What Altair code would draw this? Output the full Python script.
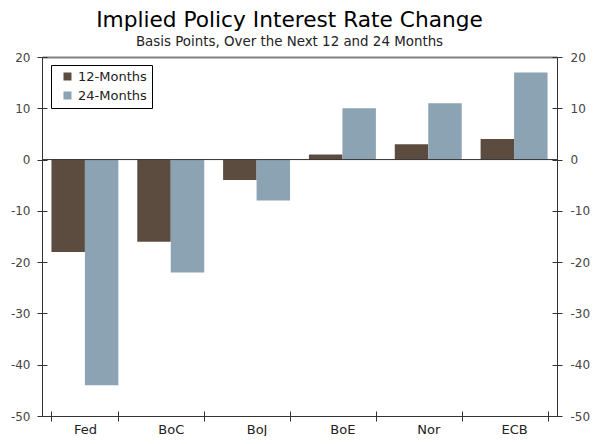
import altair as alt
import pandas as pd

categories = ["Fed", "BoC", "BoJ", "BoE", "Nor", "ECB"]
m12 = [-18, -16, -4, 1, 3, 4]
m24 = [-44, -22, -8, 10, 11, 17]
series = ["12-Months", "24-Months"]
colors = ["#5c4c3f", "#8ba3b3"]
y_ticks = [-50, -40, -30, -20, -10, 0, 10, 20]
y_domain = [-50, 20]
zero_line = [0]

rows = []
for c, a, b in zip(categories, m12, m24):
    rows.append({"bank": c, "series": series[0], "value": a})
    rows.append({"bank": c, "series": series[1], "value": b})
df = pd.DataFrame(rows)

FONT = "DejaVu Sans"
DARK = "#333333"

xscale = alt.Scale(domain=categories, paddingInner=0.22, paddingOuter=0.11)
yscale = alt.Scale(domain=y_domain, nice=False, zero=False)


def xax(**kw):
    base = dict(title=None, grid=False, labelAngle=0, tickBand="extent",
                domainColor=DARK, tickColor=DARK, labelColor="#222222",
                labelFont=FONT, labelFontSize=13)
    base.update(kw)
    return alt.Axis(**base)


def yax(**kw):
    base = dict(title=None, grid=False, values=y_ticks,
                domainColor=DARK, tickColor=DARK, labelColor="#444444",
                labelFont=FONT, labelFontSize=12, labelExpr="'' + datum.value")
    base.update(kw)
    return alt.Axis(**base)


bars = alt.Chart(df).mark_bar().encode(
    x=alt.X("bank:N", scale=xscale, sort=categories,
            axis=xax(orient="bottom", tickSize=5, labelPadding=2)),
    xOffset=alt.XOffset("series:N", sort=series),
    y=alt.Y("value:Q", scale=yscale, stack=None,
            axis=yax(orient="left", tickSize=5, labelPadding=7)),
    color=alt.Color("series:N", sort=series,
                    scale=alt.Scale(domain=series, range=colors),
                    legend=alt.Legend(title=None, orient="none", legendX=9, legendY=8,
                                      direction="vertical", symbolType="square",
                                      symbolSize=64, symbolStrokeWidth=0,
                                      labelFont=FONT, labelFontSize=13, labelColor="#222222",
                                      strokeColor="#000000", fillColor="#ffffff",
                                      padding=5, rowPadding=5, symbolOffset=5, labelOffset=4,
                                      labelExpr="datum.label + '\u00a0\u00a0'")),
)

zero = alt.Chart(pd.DataFrame({"v": zero_line})).mark_rule(color=DARK, strokeWidth=1).encode(
    y=alt.Y("v:Q", scale=yscale, axis=None)
)

# helper layers carrying extra axes (right axis, inner tick halves, top frame line)
h1 = alt.Chart(df).mark_point(opacity=0).encode(
    x=alt.X("bank:N", scale=xscale, sort=categories,
            axis=xax(orient="bottom", offset=-5, tickSize=5, domain=False, labels=False)),
    y=alt.Y("value:Q", scale=yscale,
            axis=yax(orient="right", tickSize=5, labelPadding=8)),
)
h2 = alt.Chart(df).mark_point(opacity=0).encode(
    x=alt.X("bank:N", scale=xscale, sort=categories,
            axis=xax(orient="top", ticks=False, labels=False,
                     domainColor="#808080", domainWidth=2)),
    y=alt.Y("value:Q", scale=yscale,
            axis=yax(orient="left", offset=-5, tickSize=5, domain=False, labels=False)),
)
h3 = alt.Chart(df).mark_point(opacity=0).encode(
    y=alt.Y("value:Q", scale=yscale,
            axis=yax(orient="right", offset=-5, tickSize=5, domain=False, labels=False)),
)

chart = alt.layer(bars, zero, h1, h2, h3).resolve_axis(
    x="independent", y="independent"
).properties(
    width=515,
    height=359,
    autosize=alt.AutoSizeParams(type="none"),
    padding={"left": 34, "top": 49, "right": 35, "bottom": 20},
    title=alt.TitleParams(
        "Implied Policy Interest Rate Change",
        subtitle="Basis Points, Over the Next 12 and 24 Months",
        font=FONT, fontSize=21.7, fontWeight="normal", color="#000000",
        subtitleFont=FONT, subtitleFontSize=13.4, subtitleColor="#222222",
        anchor="middle", offset=3, subtitlePadding=3, dx=-10,
    ),
).configure_view(stroke=None)

chart.save("out.html", embed_options={"renderer": "svg", "actions": False})
